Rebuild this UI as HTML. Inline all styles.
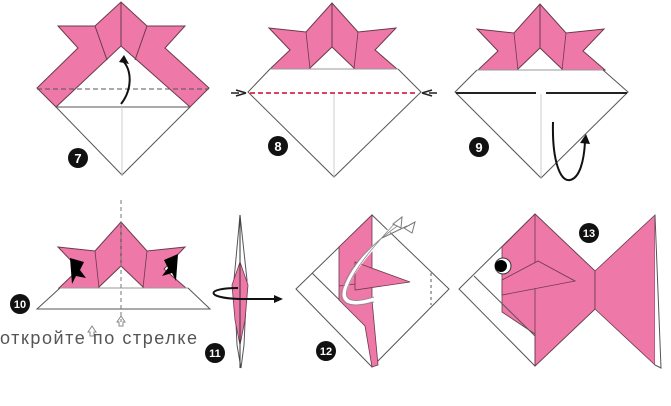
<!DOCTYPE html>
<html><head><meta charset="utf-8"><style>
html,body{margin:0;padding:0;background:#fff;width:671px;height:406px;overflow:hidden}
</style></head><body>
<svg width="671" height="406" viewBox="0 0 671 406" xmlns="http://www.w3.org/2000/svg" font-family="Liberation Sans, sans-serif">
<defs>
<g id="hat">
<polygon points="-62,66 -42,47 -63,25 -26,29 0,0 26,29 64,25 43,47 65,66 23,66 0,44 -23,66" fill="#ee78a8" stroke="#6a3a4a" stroke-width="1"/>
<line x1="0" y1="0" x2="0" y2="44" stroke="#6a3a4a" stroke-width="1"/>
<line x1="-26" y1="29" x2="-22" y2="66" stroke="#6a3a4a" stroke-width="0.8"/>
<line x1="26" y1="29" x2="22" y2="66" stroke="#6a3a4a" stroke-width="0.8"/>
</g>
</defs>
<g stroke="#555" fill="none" stroke-width="1">
<!-- Step 7 -->
<polygon points="37,88 78,48 58,26 95,26 121,2 147,26 185,26 165,48 209,88 190,107 121,46 56,107" fill="#ee78a8" stroke="#6a3a4a"/>
<line x1="121" y1="2" x2="121" y2="46" stroke="#6a3a4a"/>
<line x1="95" y1="26" x2="107" y2="60" stroke="#6a3a4a"/>
<line x1="147" y1="26" x2="135" y2="60" stroke="#6a3a4a"/>
<line x1="56" y1="107" x2="190" y2="107"/>
<polyline points="56,107 122,175 190,107"/>
<line x1="122" y1="107" x2="122" y2="175" stroke="#ccc"/>
<line x1="37" y1="89" x2="209" y2="89" stroke-dasharray="5,3"/>
<path d="M121,104 C132,90 132,72 124,62" stroke="#111" stroke-width="2"/>
<polygon points="119,62 124,55 129,64" fill="#111" stroke="none"/>
<!-- Step 8 -->
<use href="#hat" x="332" y="3"/>
<line x1="270" y1="69" x2="398" y2="69" stroke="#999"/>
<polyline points="270,69 248,92 334,177 421,92 398,69"/>
<line x1="334" y1="92" x2="334" y2="177" stroke="#ccc"/>
<line x1="250" y1="93" x2="418" y2="93" stroke="#e04060" stroke-width="2" stroke-dasharray="5,3"/>
<path d="M231,93 l8,0 M236,90 l10,3 M236,96 l10,-3 M437,93 l-8,0 M432,90 l-10,3 M432,96 l-10,-3" stroke="#222" stroke-width="1.5"/>
<!-- Step 9 -->
<use href="#hat" x="540" y="4"/>
<line x1="477" y1="70" x2="603" y2="70" stroke="#999"/>
<polyline points="477,70 455,92 541,178 628,92 603,70"/>
<line x1="541" y1="94" x2="541" y2="178" stroke="#ccc"/>
<line x1="456" y1="93" x2="536" y2="93" stroke="#222" stroke-width="2"/>
<line x1="546" y1="93" x2="627" y2="93" stroke="#222" stroke-width="2"/>
<path d="M553,122 C552,160 560,182 570,180 C580,178 584,160 585,142" stroke="#111" stroke-width="2"/>
<polygon points="580,143 586,134 590,144" fill="#111" stroke="none"/>
<!-- Step 10 -->
<use href="#hat" x="121" y="222"/>
<line x1="60" y1="288" x2="188" y2="288" stroke="#999"/>
<polyline points="60,288 37,309 210,309 188,288"/>
<line x1="121" y1="200" x2="121" y2="322" stroke-dasharray="4,3" stroke="#777"/>
<polygon points="70,258 84,262 80,270 86,278 76,276 72,284" fill="#000" stroke="none"/>
<polygon points="178,254 164,260 168,268 162,276 172,273 176,281" fill="#000" stroke="none"/>
<path d="M117,322 l4,-6 l4,6 l-2,0 l0,4 l-4,0 l0,-4z" stroke="#888"/>
<path d="M88,332 l4,-6 l4,6 l-2,0 l0,4 l-4,0 l0,-4z" stroke="#888"/>
<!-- Step 11 -->
<path d="M240,215 L247,280 L244,345 L241,368 L237,345 L234,280 Z" fill="#fff" stroke="#555"/>
<path d="M240,262 L248,285 L245,320 L240,345 L235,320 L232,285 Z" fill="#ee78a8" stroke="#6a3a4a" stroke-width="0.8"/>
<line x1="240" y1="215" x2="240" y2="368" stroke="#333"/>
<path d="M238,288 C205,288 205,298 240,299 L275,299" stroke="#111" stroke-width="2"/>
<polygon points="274,295 283,299 274,303" fill="#111" stroke="none"/>
<!-- Step 12 -->
<polygon points="296,289 372,215 449,289 372,367" fill="#fff" stroke="#555"/>
<line x1="312" y1="273" x2="372" y2="332" stroke="#555"/>
<polygon points="339,247 372,215 372,300 378,365 372,367 365,326 339,300" fill="#ee78a8" stroke="#6a3a4a" stroke-width="0.8"/>
<line x1="339" y1="286" x2="372" y2="282" stroke="#6a3a4a" stroke-width="0.8"/>
<polygon points="355,262 410,282 355,290" fill="#ee78a8" stroke="#6a3a4a" stroke-width="0.8"/>
<line x1="431" y1="273" x2="431" y2="305" stroke-dasharray="3,3"/>
<path d="M374,299 C355,305 338,305 347,285 C355,265 375,245 398,222" stroke="#fff" stroke-width="4"/>
<path d="M374,297 C355,303 340,303 349,284 C357,265 375,245 396,222" stroke="#888" stroke-width="0.8"/>
<path d="M374,302 C352,308 334,306 344,284 C352,264 372,244 400,224" stroke="#888" stroke-width="0.8"/>
<path d="M393,224 l9,-7 l-1,11z M404,228 l11,-6 l-3,11z" fill="#fff" stroke="#777"/>
<line x1="382" y1="238" x2="407" y2="226" stroke="#777"/>
<!-- Step 13 -->
<polygon points="459,289 535,214 595,271 595,309 535,366" fill="#fff" stroke="#555"/>
<polygon points="502,247 535,214 595,271 595,309 535,366 535,334 502,312" fill="#ee78a8" stroke="#6a3a4a" stroke-width="0.8"/>
<line x1="474" y1="276" x2="535" y2="336" stroke="#555"/>
<line x1="535" y1="214" x2="535" y2="366" stroke="#6a3a4a" stroke-width="0.8"/>
<polygon points="502,280 538,261 575,281 502,295" fill="#ee78a8" stroke="#6a3a4a" stroke-width="0.8"/>
<polygon points="595,271 655,215 655,365 595,309" fill="#ee78a8" stroke="#6a3a4a" stroke-width="0.8"/>
<polyline points="655,215 661,368 655,365" fill="#fff"/>
<circle cx="503" cy="266" r="8" fill="#fff" stroke="#333"/>
<circle cx="501" cy="266" r="6" fill="#000" stroke="none"/>
</g>
<g fill="#111">
<circle cx="78" cy="158" r="10"/><circle cx="278" cy="146" r="10"/><circle cx="479" cy="147" r="10"/>
<circle cx="20" cy="304" r="10"/><circle cx="215" cy="353" r="10"/><circle cx="326" cy="351" r="10"/><circle cx="589" cy="233" r="10"/>
</g>
<g fill="#fff" font-weight="bold" font-size="13" text-anchor="middle">
<text x="78" y="163">7</text><text x="278" y="151">8</text><text x="479" y="152">9</text>
<text x="20" y="308" font-size="11">10</text><text x="215" y="357" font-size="11">11</text><text x="326" y="355" font-size="11">12</text><text x="589" y="237" font-size="11">13</text>
</g>
<text x="0" y="344" font-size="18" fill="#555" textLength="197" lengthAdjust="spacing">откройте по стрелке</text>
</svg>
</body></html>
